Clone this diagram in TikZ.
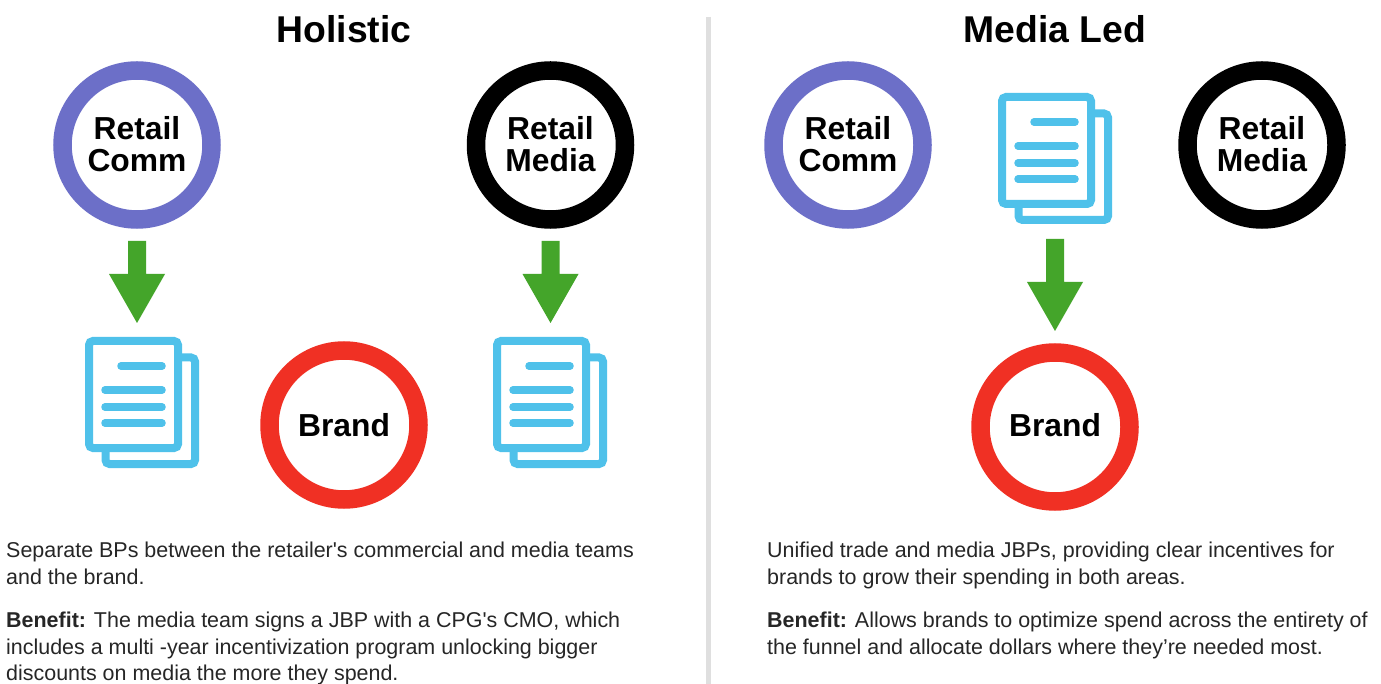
\documentclass[tikz,border=0pt]{standalone}
\usepackage{fontspec}
\setmainfont{Liberation Sans}
\definecolor{cpurple}{HTML}{6C6FC8}
\definecolor{cred}{HTML}{F03024}
\definecolor{cgreen}{HTML}{44A52A}
\definecolor{cblue}{HTML}{4FC1EA}
\definecolor{cdiv}{HTML}{DFDFDF}
\definecolor{ctext}{HTML}{262626}
\tikzset{x=1pt,y=-1pt,
 ring/.style={circle,draw=#1,line width=18.5pt,minimum size=149pt,inner sep=0pt},
 ringtext/.style={align=center,inner sep=0pt,yshift=1pt,font=\fontsize{31.8}{32}\selectfont\bfseries,text=black},
 title/.style={font=\fontsize{37.3}{38}\selectfont\bfseries,text=black},
 body/.style={anchor=north west,align=left,inner sep=0pt,text=ctext,font=\fontsize{21.45}{26.8}\selectfont},
 dnarrow/.style={fill=cgreen,draw=none},
 doc/.style={draw=cblue,line width=8pt,rounded corners=4pt,fill=white},
 docline/.style={draw=cblue,line width=7.5pt,line cap=round}}
\newcommand{\docicon}[2]{%
 \begin{scope}[shift={(#1,#2)}]
 \draw[doc] (16.5,16.5) rectangle (106,123);
 \draw[doc] (0,0) rectangle (89,107);
 \draw[docline] (32,25) -- (73,25);
 \draw[docline] (16,49) -- (73,49);
 \draw[docline] (16,66) -- (73,66);
 \draw[docline] (16,82) -- (73,82);
 \end{scope}}
\newcommand{\arrowdown}[3]{%
 \fill[dnarrow] (#1-9,#2) -- (#1+9,#2) -- (#1+9,#3-49) -- (#1+28,#3-49) -- (#1,#3) -- (#1-28,#3-49) -- (#1-9,#3-49) -- cycle;}
\begin{document}
\begin{tikzpicture}
\useasboundingbox (0,0) rectangle (1381,684);
\fill[white] (0,0) rectangle (1381,684);
\draw[cdiv,line width=5pt] (708,17) coordinate (d1) -- (708,684) coordinate (d2);
\node[title] (t1) at (344,29) {Holistic};
\node[title] (t2) at (1055,29) {Media Led};
\node[ring=cpurple,label={[ringtext]center:{Retail\\Comm}}] (rc1) at (137,145) {};
\node[ring=black,label={[ringtext]center:{Retail\\Media}}] (rm1) at (550.5,145) {};
\node[ring=cred,label={[ringtext,yshift=-1pt]center:{Brand}}] (b1) at (344,425) {};
\node[ring=cpurple,label={[ringtext]center:{Retail\\Comm}}] (rc2) at (848,145) {};
\node[ring=black,label={[ringtext]center:{Retail\\Media}}] (rm2) at (1262,145) {};
\node[ring=cred,label={[ringtext,yshift=1pt]center:{Brand}}] (b2) at (1055,427) {};
\arrowdown{137}{241}{323}
\arrowdown{550.5}{241}{323}
\arrowdown{1055}{239}{331}
\docicon{89}{341}
\docicon{497}{341}
\docicon{1002}{97}
\node[body] (p1) at (6,541.5) {Separate BPs between the retailer\textquotesingle s commercial and media teams\\and the brand.};
\node[body] (p2) at (6,611.5) {\textbf{Benefit:} The media team signs a JBP with a CPG\textquotesingle s CMO, which\\includes a multi -year incentivization program unlocking bigger\\discounts on media the more they spend.};
\node[body] (p3) at (767,541.5) {Unified trade and media JBPs, providing clear incentives for\\brands to grow their spending in both areas.};
\node[body] (p4) at (767,611.5) {\textbf{Benefit:} Allows brands to optimize spend across the entirety of\\the funnel and allocate dollars where they’re needed most.};
\end{tikzpicture}
\end{document}
